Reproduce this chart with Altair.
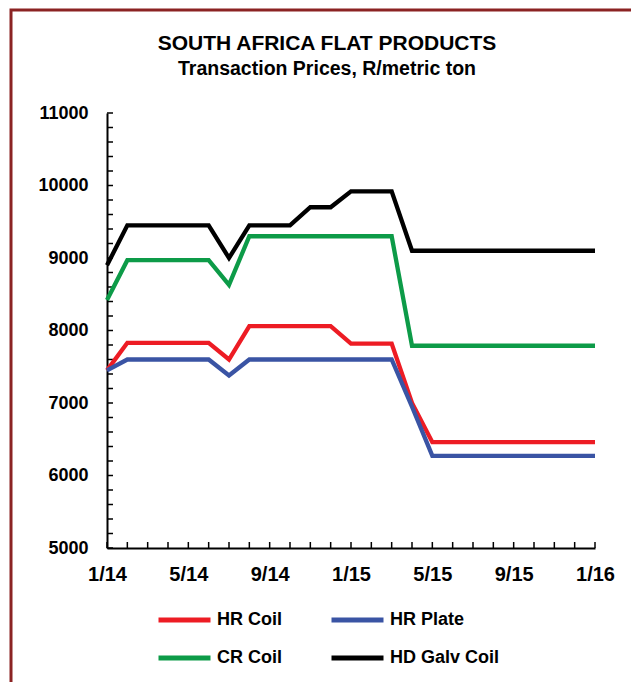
import altair as alt
import pandas as pd

# ---- data ----
months = list(range(25))  # monthly points, Jan 2014 .. Jan 2016
x_tick_labels = ["1/14", "5/14", "9/14", "1/15", "5/15", "9/15", "1/16"]
y_tick_labels = [5000, 6000, 7000, 8000, 9000, 10000, 11000]
y_minor_ticks = [5000, 5200, 5400, 5600, 5800, 6000, 6200, 6400, 6600, 6800,
                 7000, 7200, 7400, 7600, 7800, 8000, 8200, 8400, 8600, 8800,
                 9000, 9200, 9400, 9600, 9800, 10000, 10200, 10400, 10600,
                 10800, 11000]

series_names = ["HR Coil", "HR Plate", "CR Coil", "HD Galv Coil"]
series_colors = ["#ED1C24", "#3A54A4", "#0D9B48", "#000000"]

hr_coil = [7450, 7830, 7830, 7830, 7830, 7830, 7600, 8060, 8060, 8060, 8060, 8060,
           7820, 7820, 7820, 7000, 6460, 6460, 6460, 6460, 6460, 6460, 6460, 6460, 6460]
hr_plate = [7450, 7600, 7600, 7600, 7600, 7600, 7380, 7600, 7600, 7600, 7600, 7600,
            7600, 7600, 7600, 6950, 6270, 6270, 6270, 6270, 6270, 6270, 6270, 6270, 6270]
cr_coil = [8420, 8970, 8970, 8970, 8970, 8970, 8630, 9300, 9300, 9300, 9300, 9300,
           9300, 9300, 9300, 7790, 7790, 7790, 7790, 7790, 7790, 7790, 7790, 7790, 7790]
hd_galv = [8900, 9450, 9450, 9450, 9450, 9450, 9000, 9450, 9450, 9450, 9700, 9700,
           9920, 9920, 9920, 9100, 9100, 9100, 9100, 9100, 9100, 9100, 9100, 9100, 9100]

rows = []
for name, vals in zip(series_names, [hr_coil, hr_plate, cr_coil, hd_galv]):
    for m, v in zip(months, vals):
        rows.append({"m": m, "v": v, "series": name})
df = pd.DataFrame(rows)

FONT = "Liberation Sans"
W, H = 488, 435

label_array = "[" + ",".join("'" + s + "'" for s in x_tick_labels) + "]"

x_scale = alt.Scale(domain=[0, 24], nice=False)
y_scale = alt.Scale(domain=[5000, 11000], nice=False, zero=False)

x_axis = alt.Axis(values=[0, 4, 8, 12, 16, 20, 24],
                  labelExpr=label_array + "[round(datum.value/4)]",
                  title=None, ticks=False, grid=False,
                  labelFlush=False, labelOverlap=False,
                  domainColor="black", domainWidth=2,
                  labelFont=FONT, labelFontSize=20, labelFontWeight="bold",
                  labelColor="black", labelPadding=16)
y_axis = alt.Axis(values=y_tick_labels, format="d", title=None,
                  ticks=False, grid=False, labelOverlap=False,
                  domainColor="black", domainWidth=2,
                  labelFont=FONT, labelFontSize=18, labelFontWeight="bold",
                  labelColor="black", labelPadding=19)

lines = alt.Chart(df).mark_line(strokeWidth=4.3, strokeJoin="miter").encode(
    x=alt.X("m:Q", scale=x_scale, axis=x_axis),
    y=alt.Y("v:Q", scale=y_scale, axis=y_axis),
    color=alt.Color("series:N",
                    scale=alt.Scale(domain=series_names, range=series_colors),
                    sort=series_names,
                    legend=alt.Legend(orient="none", legendX=49, legendY=498,
                                      columns=2, direction="horizontal",
                                      title=None, padding=0,
                                      symbolType="stroke", symbolSize=2704,
                                      symbolStrokeWidth=5,
                                      labelFont=FONT, labelFontSize=18,
                                      labelFontWeight="bold", labelColor="black",
                                      labelOffset=4, columnPadding=47,
                                      rowPadding=20, clipHeight=18)),
)

ytick_df = pd.DataFrame({"v": y_minor_ticks})
xtick_df = pd.DataFrame({"m": months})

y_ticks = alt.Chart(ytick_df).mark_rule(color="black", strokeWidth=1.5).encode(
    y=alt.Y("v:Q", scale=y_scale, axis=y_axis),
    x=alt.value(0), x2=alt.value(6),
)
x_ticks = alt.Chart(xtick_df).mark_rule(color="black", strokeWidth=1.5).encode(
    x=alt.X("m:Q", scale=x_scale, axis=x_axis),
    y=alt.value(H - 6), y2=alt.value(H),
)

border = alt.Chart(alt.Data(values=[{}])).mark_rect(
    fillOpacity=0, stroke="#8B2323", strokeWidth=3
).encode(
    x=alt.value(-96), x2=alt.value(560), y=alt.value(-103), y2=alt.value(620)
)

chart = alt.layer(border, y_ticks, x_ticks, lines).properties(
    width=W, height=H,
    autosize=alt.AutoSizeParams(type="none"),
    padding={"left": 107, "top": 113, "right": 36, "bottom": 134},
    background="white",
    title=alt.TitleParams(
        "SOUTH AFRICA FLAT PRODUCTS",
        subtitle="Transaction Prices, R/metric ton",
        font=FONT, fontSize=21, fontWeight="bold", color="black",
        subtitleFont=FONT, subtitleFontSize=19.5, subtitleFontWeight="bold",
        subtitleColor="black", subtitlePadding=6,
        anchor="middle", dx=-24, offset=-70,
    ),
).configure_view(stroke=None)

chart.save("out.html", embed_options={"renderer": "svg", "actions": False})
